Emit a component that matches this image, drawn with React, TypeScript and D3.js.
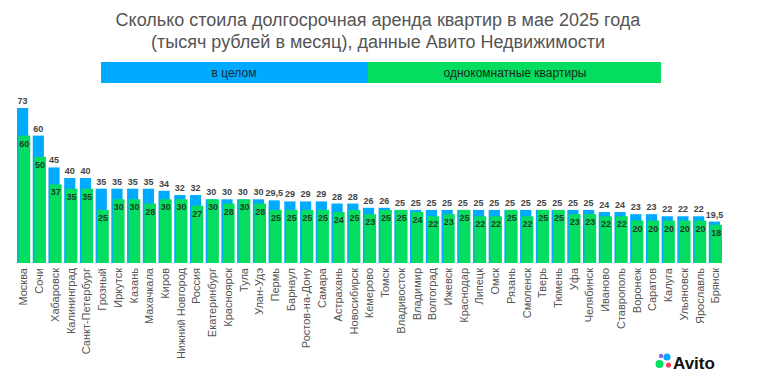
import React from "react";
import * as d3 from "d3";

const categories = ["Москва","Сочи","Хабаровск","Калининград","Санкт-Петербург","Грозный","Иркутск","Казань","Махачкала","Киров","Нижний Новгород","Россия","Екатеринбург","Красноярск","Тула","Улан-Удэ","Пермь","Барнаул","Ростов-на-Дону","Самара","Астрахань","Новосибирск","Кемерово","Томск","Владивосток","Владимир","Волгоград","Ижевск","Краснодар","Липецк","Омск","Рязань","Смоленск","Тверь","Тюмень","Уфа","Челябинск","Иваново","Ставрополь","Воронеж","Саратов","Калуга","Ульяновск","Ярославль","Брянск"];
const overall = [73,60,45,40,40,35,35,35,35,34,32,32,30,30,30,30,29.5,29,29,29,28,28,26,26,25,25,25,25,25,25,25,25,25,25,25,25,25,24,24,23,23,22,22,22,19.5];
const oneRoom = [60,50,37,35,35,25,30,30,28,30,30,27,30,28,30,28,25,25,25,25,24,25,23,25,25,24,22,23,25,22,22,25,22,25,25,23,23,22,22,20,20,20,20,20,18];
const titleLines = ["Сколько стоила долгосрочная аренда квартир в мае 2025 года", "(тысяч рублей в месяц), данные Авито Недвижимости"];
const legendLabels = ["в целом", "однокомнатные квартиры"];

const BLUE = "#00AAFF";
const GREEN = "#04DD5F";
const fmt = (v: number) => String(v).replace(".", ",");

export default function App() {
  const W = 760, H = 382;
  const x = d3.scaleBand<string>().domain(categories).range([17, 722]).paddingInner(0.16).paddingOuter(0);
  const y = d3.scaleLinear().domain([0, 73]).range([263, 108]);
  const bw = x.bandwidth();
  const blueW = bw - 2;
  const gOff = 1.5;
  const font = "'Liberation Sans', Arial, sans-serif";
  return (
    <svg width={W} height={H} style={{ position: "absolute", left: 0, top: 0, background: "#fff" }} fontFamily={font}>
      {titleLines.map((t, i) => (
        <text key={i} x={378} y={26 + i * 22} textAnchor="middle" fontSize={18} fill="#555">{t}</text>
      ))}
      <rect x={101} y={62} width={267} height={21} fill={BLUE} />
      <rect x={368} y={62} width={293} height={21} fill={GREEN} />
      <text x={234} y={77} textAnchor="middle" fontSize={12} fill="#1a2a3a">{legendLabels[0]}</text>
      <text x={515} y={77} textAnchor="middle" fontSize={12} fill="#1a2a1a">{legendLabels[1]}</text>
      {categories.map((c, i) => {
        const x0 = x(c)!;
        return (
          <g key={c}>
            <rect x={x0} y={y(overall[i])} width={blueW} height={y(0) - y(overall[i])} fill={BLUE} />
            <rect x={x0 + gOff} y={y(oneRoom[i])} width={bw - gOff} height={y(0) - y(oneRoom[i])} fill={GREEN} />
            <text x={x0 + blueW / 2} y={y(overall[i]) - 4} textAnchor="middle" fontSize={9} fontWeight="bold" fill="#444">{fmt(overall[i])}</text>
            <text x={x0 + gOff + (bw - gOff) / 2} y={y(oneRoom[i]) + 11} textAnchor="middle" fontSize={9} fontWeight="bold" fill="#1e3d28">{fmt(oneRoom[i])}</text>
            <text transform={`translate(${x0 + bw / 2},268) rotate(-90)`} dy="0.35em" textAnchor="end" fontSize={11} fill="#555">{c}</text>
          </g>
        );
      })}
      <g>
        <circle cx={661} cy={356} r={2.2} fill="#9B5CF6" />
        <circle cx={667} cy={357} r={3.6} fill="#00AAFF" />
        <circle cx={659.5} cy={364} r={4} fill="#04E061" />
        <circle cx={668.5} cy={365} r={2.6} fill="#FF4053" />
        <text x={673} y={368.5} fontSize={17} fontWeight="bold" fill="#111">Avito</text>
      </g>
    </svg>
  );
}
